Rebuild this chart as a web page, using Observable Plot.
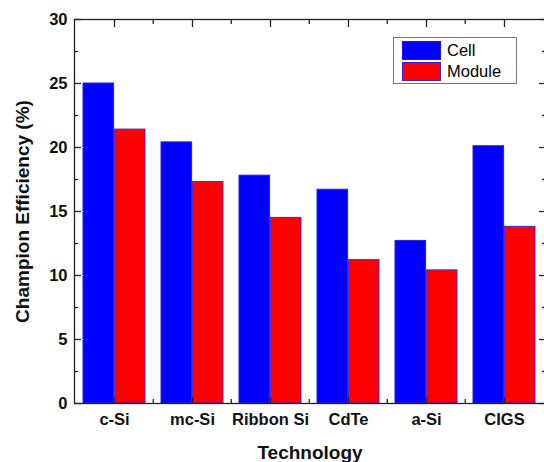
<!DOCTYPE html>
<html><head><meta charset="utf-8">
<script src="https://cdn.jsdelivr.net/npm/d3@7"></script>
<script src="https://cdn.jsdelivr.net/npm/@observablehq/plot@0.6"></script>
<style>
html,body{margin:0;padding:0;background:#fff;overflow:hidden}
#wrap{position:relative;width:544px;height:462px}
#legend{position:absolute;left:393px;top:37px;width:124px;height:47px;border:1px solid #777;background:#fff;box-sizing:border-box;font:16.5px "Liberation Sans",Arial,sans-serif;color:#000}
#legend .row{position:absolute;left:8px;height:19px;display:flex;align-items:center}
#legend .sw{width:39px;height:19px;box-sizing:border-box;border:1px solid #3a22d8;margin-right:6px}
</style>
</head><body>
<div id="wrap"><div id="legend"></div></div>
<script>
const technologies = ["c-Si", "mc-Si", "Ribbon Si", "CdTe", "a-Si", "CIGS"];
const cellEff = [25.0, 20.4, 17.8, 16.7, 12.7, 20.1];
const moduleEff = [21.4, 17.3, 14.5, 11.2, 10.4, 13.8];
const seriesNames = ["Cell", "Module"];
const seriesColors = ["#0000ff", "#ff0000"];
const yMajorTicks = [0, 5, 10, 15, 20, 25, 30];
const yMinorTicks = [2.5, 7.5, 12.5, 17.5, 22.5, 27.5];
const yLabel = "Champion Efficiency (%)";
const xLabel = "Technology";

const W = 544, H = 462, ML = 74, MR = -1, MT = 19, MB = 59;
const pIn = 0.2, pOut = 0.1;
const step = (W - ML - MR) / technologies.length;
const bw = step * (1 - pIn);
const font = '"Liberation Sans", Arial, sans-serif';
const axisColor = "#222";
const data = technologies.map((t, i) => ({tech: t, cell: cellEff[i], module: moduleEff[i]}));
const blank = () => "";

const chart = Plot.plot({
  width: W, height: H,
  marginLeft: ML, marginRight: MR, marginTop: MT, marginBottom: MB,
  style: {fontFamily: font, background: "white", color: "#000", overflow: "visible"},
  x: {domain: technologies, paddingInner: pIn, paddingOuter: pOut, axis: null},
  y: {domain: [0, 30], axis: null},
  marks: [
    Plot.barY(data, {x: "tech", y: "cell", fill: seriesColors[0], stroke: "#2a1ee0", strokeWidth: 1, insetRight: bw / 2}),
    Plot.barY(data, {x: "tech", y: "module", fill: seriesColors[1], stroke: "#4a22d0", strokeWidth: 1, insetLeft: bw / 2}),
    Plot.frame({stroke: axisColor, strokeWidth: 1.3}),
    // left axis ticks (inward)
    Plot.axisY(yMajorTicks, {anchor: "left", tickSize: 7, dx: 7, tickFormat: blank, label: null, stroke: axisColor, strokeWidth: 1.3}),
    Plot.axisY(yMinorTicks, {anchor: "left", tickSize: 4, dx: 4, tickFormat: blank, label: null, stroke: axisColor, strokeWidth: 1.3}),
    // right axis ticks (inward)
    Plot.axisY(yMajorTicks, {anchor: "right", tickSize: 7, dx: -7, tickFormat: blank, label: null, stroke: axisColor, strokeWidth: 1.3}),
    Plot.axisY(yMinorTicks, {anchor: "right", tickSize: 4, dx: -4, tickFormat: blank, label: null, stroke: axisColor, strokeWidth: 1.3}),
    // y tick labels
    Plot.axisY(yMajorTicks, {anchor: "left", tickSize: 0, tickPadding: 7, label: null, fontSize: 16.5, fontWeight: "bold", fill: "#111"}),
    // bottom ticks
    Plot.axisX(technologies, {anchor: "bottom", tickSize: 6, dy: -6, tickFormat: blank, label: null, stroke: axisColor, strokeWidth: 1.3}),
    Plot.axisX(technologies.slice(1), {anchor: "bottom", tickSize: 4, dy: -4, dx: -step / 2, tickFormat: blank, label: null, stroke: axisColor, strokeWidth: 1.3}),
    // top ticks
    Plot.axisX(technologies, {anchor: "top", tickSize: 7, dy: 7, tickFormat: blank, label: null, stroke: axisColor, strokeWidth: 1.3}),
    Plot.axisX(technologies.slice(1), {anchor: "top", tickSize: 4, dy: 4, dx: -step / 2, tickFormat: blank, label: null, stroke: axisColor, strokeWidth: 1.3}),
    // x tick labels
    Plot.axisX(technologies, {anchor: "bottom", tickSize: 0, tickPadding: 10, label: null, fontSize: 16.5, fontWeight: "bold", fill: "#111"}),
    // axis titles
    Plot.text([yLabel], {text: d => d, frameAnchor: "left", textAnchor: "middle", lineAnchor: "middle", dx: -52, rotate: -90, fontSize: 19, fontWeight: "bold", fill: "#111"}),
    Plot.text([xLabel], {text: d => d, frameAnchor: "bottom", textAnchor: "middle", dy: 49, lineAnchor: "middle", fontSize: 19, fontWeight: "bold", fill: "#111"})
  ]
});
document.getElementById("wrap").insertBefore(chart, document.getElementById("legend"));

const legend = document.getElementById("legend");
seriesNames.forEach((name, i) => {
  const row = document.createElement("div");
  row.className = "row";
  row.style.top = (3 + i * 21) + "px";
  const sw = document.createElement("div");
  sw.className = "sw";
  sw.style.background = seriesColors[i];
  if (i === 0) sw.style.borderColor = "#1a14f0";
  const label = document.createElement("span");
  label.textContent = name;
  row.appendChild(sw);
  row.appendChild(label);
  legend.appendChild(row);
});
</script>
</body></html>
